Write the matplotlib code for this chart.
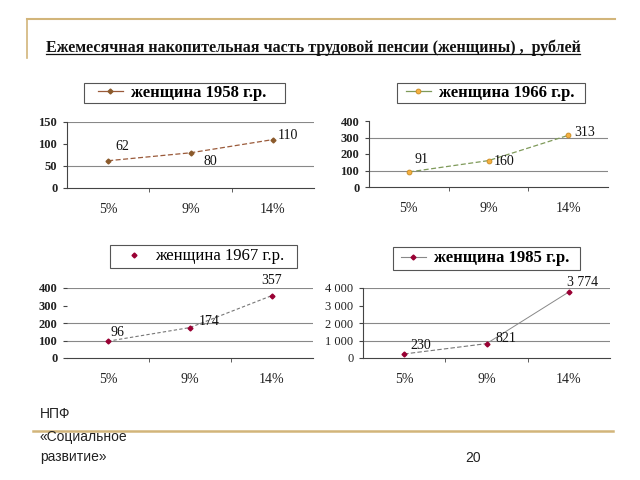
import numpy as np
import matplotlib
matplotlib.use("Agg")
import matplotlib.pyplot as plt
from matplotlib.lines import Line2D
from matplotlib.patches import Rectangle
from matplotlib.ticker import FuncFormatter

# Data
categories = ['5%', '9%', '14%']
w1958 = [62, 80, 110]
w1966 = [91, 160, 313]
w1967 = [96, 174, 357]
w1985 = [230, 821, 3774]
labels1985 = ['230', '821', '3 774']

title = 'Ежемесячная накопительная часть трудовой пенсии (женщины) ,  рублей'
serif = ['Liberation Serif', 'DejaVu Serif']

W, H = 640, 480
fig = plt.figure(figsize=(6.4, 4.8), dpi=100)


def px_axes(x0, x1, y0, y1):
    # pixel box -> figure fraction
    return fig.add_axes([x0 / W, 1 - y1 / H, (x1 - x0) / W, (y1 - y0) / H])


def style_axes(ax, ymax, ystep, grid_vals, tick_bold, show_left=True, fmt=None):
    x = np.arange(len(categories))
    ax.set_xlim(-0.5, 2.5)
    ax.set_ylim(0, ymax)
    ax.set_xticks(x)
    ax.set_xticklabels(categories, fontfamily=serif, fontsize=10, color='#222222')
    ax.set_xticks([0.5, 1.5], minor=True)
    ax.tick_params(axis='x', which='major', length=0, pad=11)
    ax.tick_params(axis='x', which='minor', length=3, direction='out', color='#444444')
    ax.set_yticks(np.arange(0, ymax + 1, ystep))
    ax.tick_params(axis='y', length=3, direction='out', color='#444444', pad=4)
    for t in ax.get_yticklabels():
        t.set_fontfamily(serif)
        t.set_fontsize(9)
        t.set_fontweight('bold' if tick_bold else 'normal')
        t.set_color('#222222')
    if fmt is not None:
        ax.yaxis.set_major_formatter(FuncFormatter(fmt))
    for g in grid_vals:
        ax.axhline(g, color='#888888', lw=0.8, zorder=0)
    for s in ['top', 'right']:
        ax.spines[s].set_visible(False)
    ax.spines['bottom'].set_color('#444444')
    ax.spines['bottom'].set_linewidth(0.8)
    ax.spines['left'].set_color('#444444')
    ax.spines['left'].set_linewidth(0.8)
    ax.spines['left'].set_visible(show_left)
    ax.patch.set_alpha(0)


def add_labels(ax, values, texts, offsets):
    for i, (v, t, off) in enumerate(zip(values, texts, offsets)):
        ax.annotate(t, (i, v), xytext=off, textcoords='offset points',
                    ha='center', va='center', fontfamily=serif, fontsize=10,
                    color='#111111')


def add_legend(ax, handle, text, box, cx, bold):
    x0, x1, y0, y1 = box
    fig.add_artist(Rectangle((x0 / W, 1 - y1 / H), (x1 - x0) / W, (y1 - y0) / H,
                             transform=fig.transFigure, facecolor='none',
                             edgecolor='#555555', lw=0.8, zorder=-1))
    cy = (y0 + y1) / 2
    ax.legend([handle], [text], loc='center',
              bbox_to_anchor=(cx / W, 1 - cy / H), bbox_transform=fig.transFigure,
              frameon=False,
              prop={'family': serif, 'size': 12, 'weight': 'bold' if bold else 'normal'},
              handlelength=1.5, handletextpad=0.5, borderpad=0.1,
              borderaxespad=0)


x = np.arange(len(categories))

# 1958
ax1 = px_axes(67, 314, 122, 188)
ax1.plot(x, w1958, ls=(0, (4, 2)), color='#9a5a3a', lw=0.9, marker='D', ms=2.5,
         mfc='#8b5a2b', mec='#8b5a2b')
style_axes(ax1, 150, 50, [50, 150], True)
add_labels(ax1, w1958, [str(v) for v in w1958], [(10, 10), (14, -6), (11, 3)])
add_legend(ax1, Line2D([], [], color='#9a5a3a', lw=0.9, marker='D', ms=2.5,
                       mfc='#8b5a2b', mec='#8b5a2b'),
           'женщина 1958 г.р.', (84, 285, 83, 103), 182, True)

# 1966
ax2 = px_axes(369, 608, 121, 187)
ax2.plot(x, w1966, ls=(0, (4, 2)), color='#7f9a5a', lw=0.9, marker='o', ms=3.5,
         mfc='#f5b041', mec='#c88a20', mew=0.6)
style_axes(ax2, 400, 100, [100, 300], True)
add_labels(ax2, w1966, [str(v) for v in w1966], [(9, 9), (11, -1), (12, 2)])
add_legend(ax2, Line2D([], [], color='#7f9a5a', lw=0.9, marker='o', ms=3.5,
                       mfc='#f5b041', mec='#c88a20', mew=0.6),
           'женщина 1966 г.р.', (397, 585, 83, 103), 490, True)

# 1967
ax3 = px_axes(67, 313, 288, 358)
ax3.plot(x, w1967, ls=(0, (3, 2)), color='#777777', lw=0.8, marker='D', ms=2.5,
         mfc='#990033', mec='#990033')
style_axes(ax3, 400, 100, [100, 200, 400], True, show_left=False)
add_labels(ax3, w1967, [str(v) for v in w1967], [(7, 6), (14, 4), (0, 11)])
add_legend(ax3, Line2D([], [], ls='none', marker='D', ms=2.5,
                       mfc='#990033', mec='#990033'),
           'женщина 1967 г.р.', (110, 297, 245, 268), 203, False)

# 1985
ax4 = px_axes(363, 610, 288, 358)
ax4.plot(x[:2], w1985[:2], ls=(0, (4, 2)), color='#777777', lw=0.8)
ax4.plot(x[1:], w1985[1:], ls='-', color='#888888', lw=0.7)
ax4.plot(x, w1985, ls='none', marker='D', ms=2.5, mfc='#990033', mec='#990033')
style_axes(ax4, 4000, 1000, [1000, 2000, 4000], False,
           fmt=lambda v, p: f'{int(v):,}'.replace(',', ' '))
add_labels(ax4, w1985, labels1985, [(12, 6), (14, 4), (10, 7)])
add_legend(ax4, Line2D([], [], color='#888888', lw=0.8, marker='D', ms=2.5,
                       mfc='#990033', mec='#990033'),
           'женщина 1985 г.р.', (393, 580, 247, 270), 485, True)

# slide decoration
gold = '#d2b57a'
fig.add_artist(Line2D([27 / W, 615 / W], [1 - 19 / H, 1 - 19 / H], color=gold, lw=1.5))
fig.add_artist(Line2D([27 / W, 27 / W], [1 - 19 / H, 1 - 58 / H], color=gold, lw=1.2))
fig.add_artist(Line2D([33 / W, 613 / W], [1 - 431 / H, 1 - 431 / H], color=gold, lw=1.8))

t = fig.text(313 / W, 1 - 48 / H, title, ha='center', va='center', fontfamily=serif,
             fontsize=11.5, fontweight='bold', color='#111111')
r = fig.canvas.get_renderer()
bb = t.get_window_extent(renderer=r)
fig.add_artist(Line2D([bb.x0 / W, bb.x1 / W], [1 - 54 / H, 1 - 54 / H],
                      color='#111111', lw=0.9))

sans = ['Liberation Sans', 'DejaVu Sans']
for txt, y in [('НПФ', 414), ('«Социальное', 437), ('развитие»', 457)]:
    fig.text(40 / W, 1 - y / H, txt, ha='left', va='center', fontfamily=sans,
             fontsize=10, color='#222222')
fig.text(473 / W, 1 - 458 / H, '20', ha='center', va='center', fontfamily=sans,
         fontsize=10, color='#222222')

fig.savefig('out.png', dpi=100)
